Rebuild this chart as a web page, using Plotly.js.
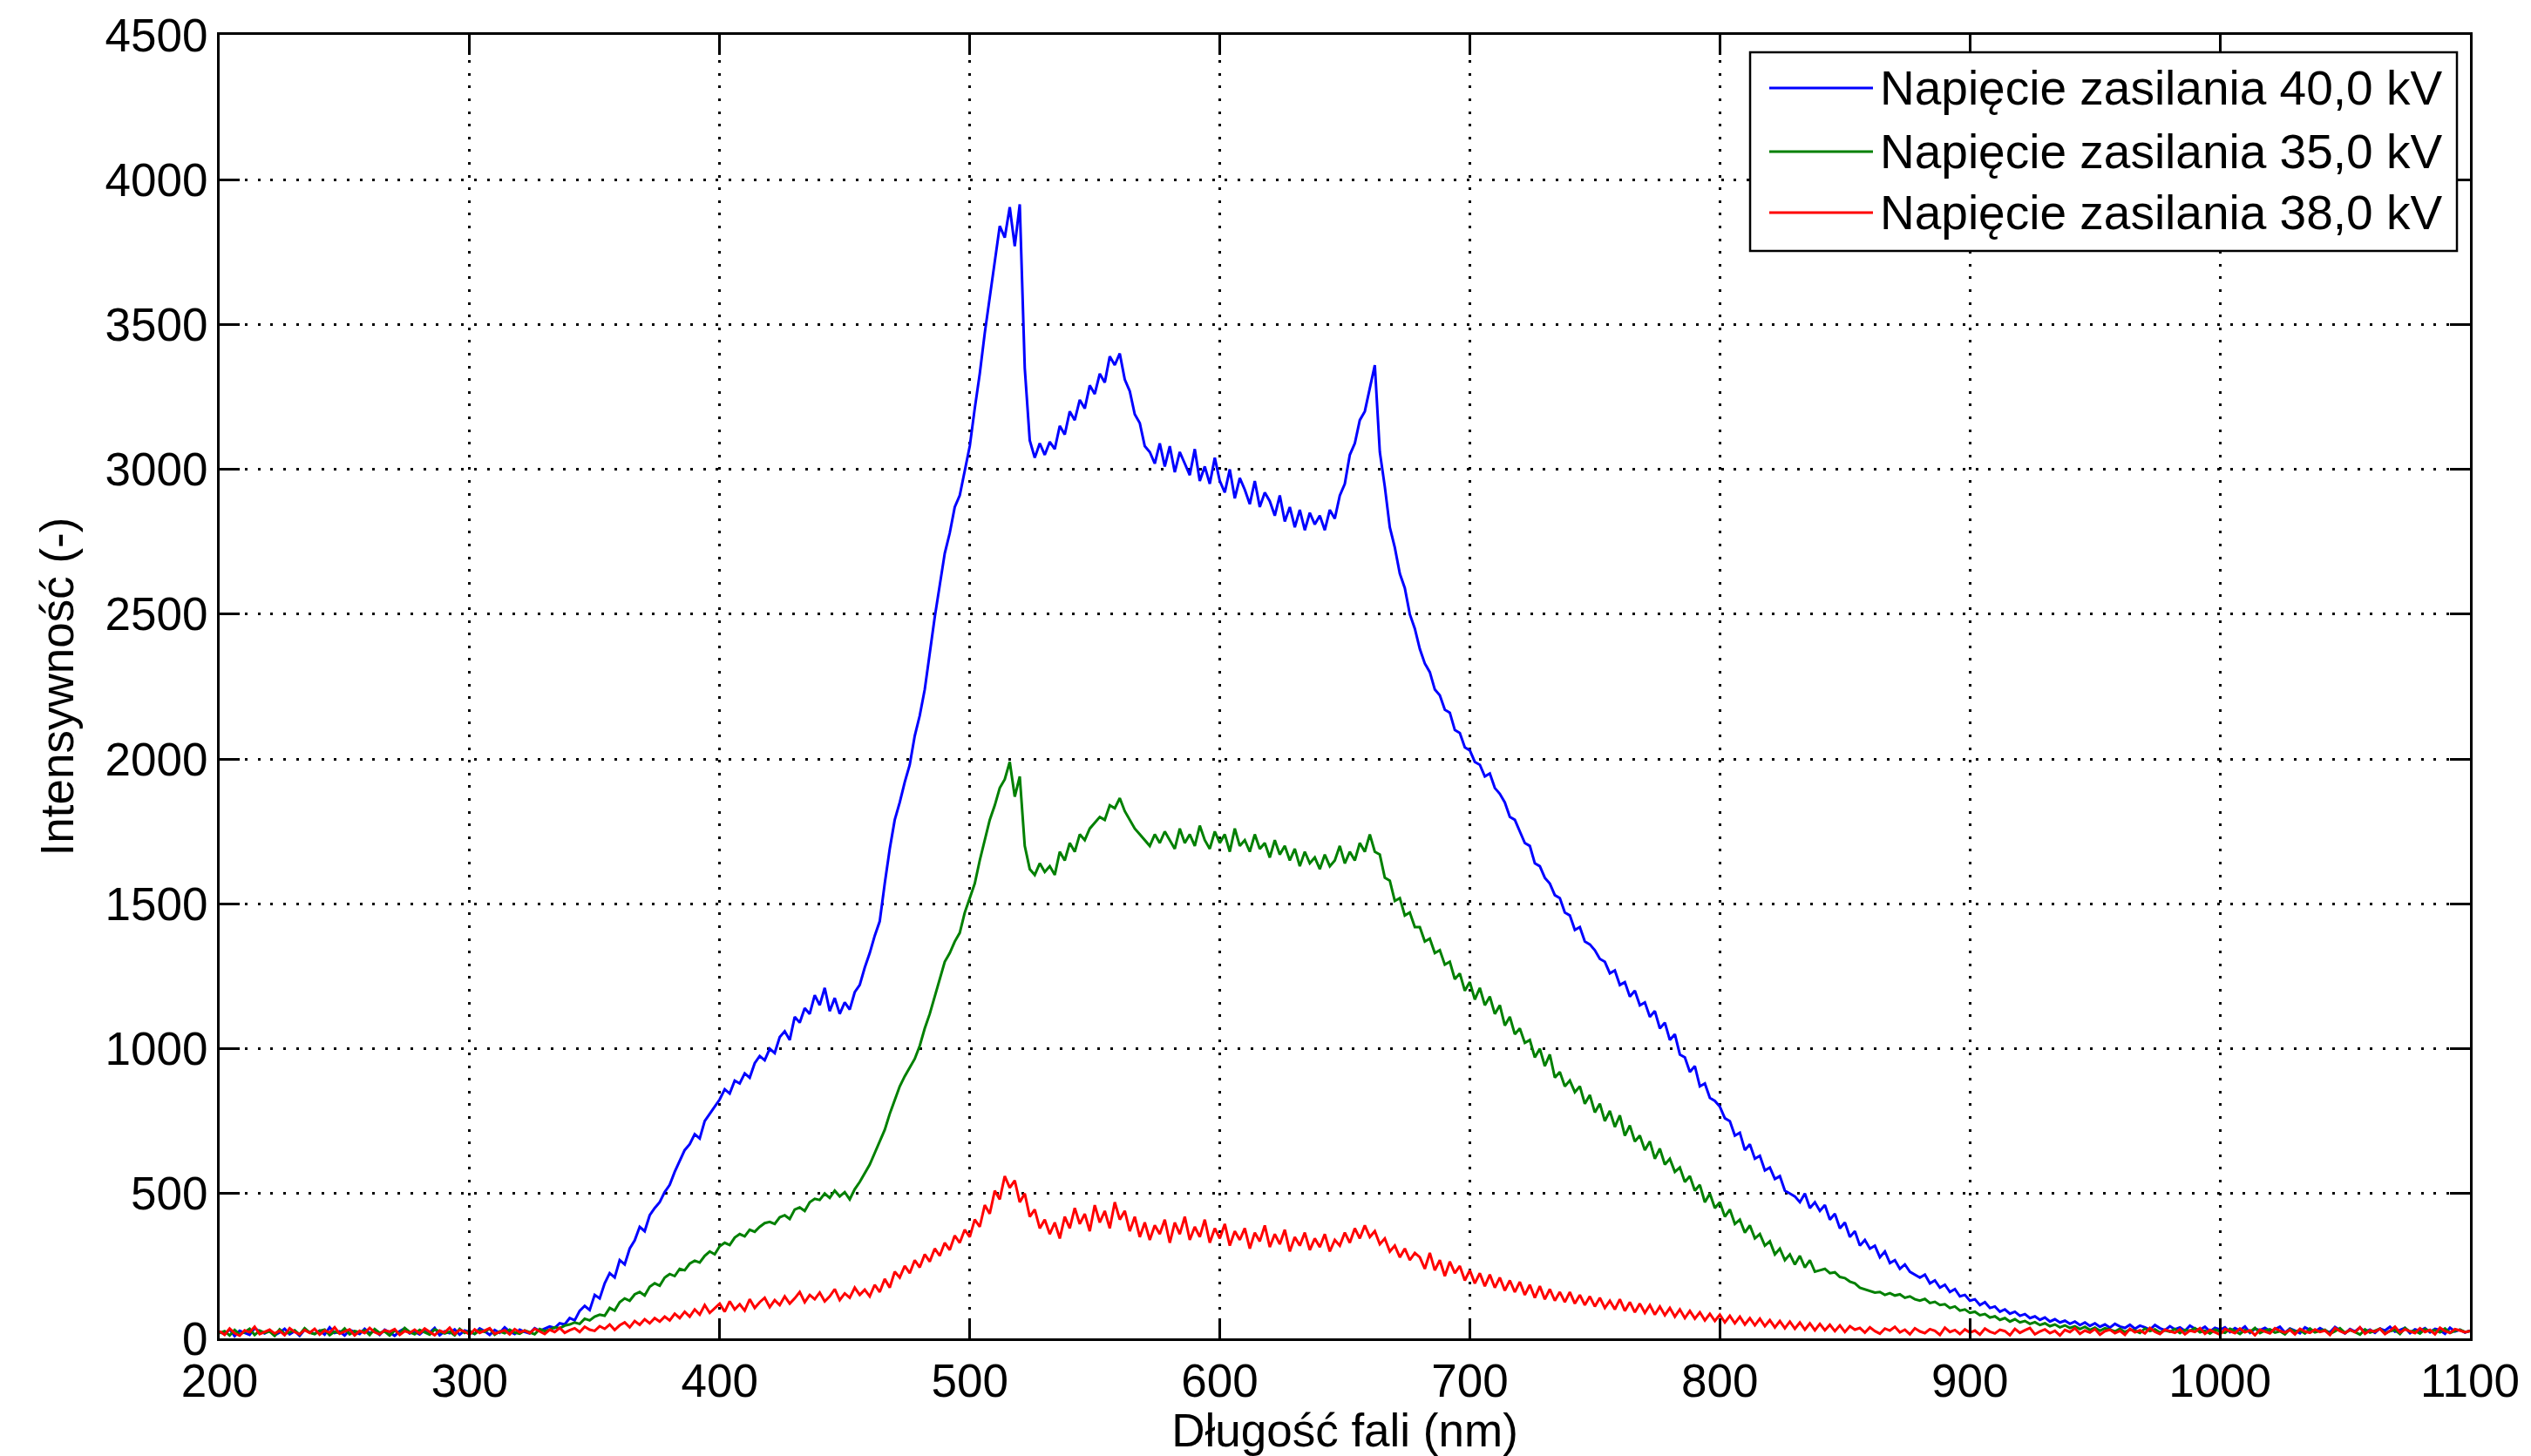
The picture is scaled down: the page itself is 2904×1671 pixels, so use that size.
<!DOCTYPE html>
<html>
<head>
<meta charset="utf-8">
<script src="https://cdn.plot.ly/plotly-3.0.1.min.js"></script>
<style>
html,body{margin:0;padding:0;background:#fff;}
#chart{width:2904px;height:1671px;}
</style>
</head>
<body>
<div id="chart"></div>
<script>
// Wavelength sampling grid (nm)
const WL_START = 200;
const WL_STEP = 2;

const seriesNames = ["Napięcie zasilania 40,0 kV", "Napięcie zasilania 35,0 kV", "Napięcie zasilania 38,0 kV"];
const seriesColors = ["#0000FF", "#008000", "#FF0000"];

const xTickVals = [200, 300, 400, 500, 600, 700, 800, 900, 1000, 1100];
const yTickVals = [0, 500, 1000, 1500, 2000, 2500, 3000, 3500, 4000, 4500];

const xTitle = "Długość fali (nm)";
const yTitle = "Intensywność (-)";

// 40,0 kV (blue) — values read every 2 nm from 200 to 1100
const intensity40 = [
/*200*/ 22,15,31,8,26,19,12,35,24,17,
/*220*/ 28,11,20,33,14,25,9,30,21,16,
/*240*/ 27,13,38,19,24,10,29,22,15,33,
/*260*/ 18,26,12,30,21,9,25,34,17,23,
/*280*/ 14,28,20,36,11,24,18,31,13,27,
/*300*/ 21,16,34,25,12,29,19,38,23,15,
/*320*/ 30,22,17,35,26,33,41,36,52,48,
/*340*/ 70,62,95,112,98,150,138,190,225,210,
/*360*/ 270,255,310,338,385,370,425,450,470,505,
/*380*/ 530,575,610,650,670,705,690,750,775,800,
/*400*/ 825,860,845,890,880,915,900,950,975,960,
/*420*/ 1000,985,1040,1060,1030,1110,1090,1140,1120,1185,
/*440*/ 1150,1210,1130,1175,1120,1160,1135,1195,1220,1280,
/*460*/ 1330,1390,1440,1570,1690,1790,1850,1920,1980,2080,
/*480*/ 2150,2240,2370,2490,2600,2710,2780,2870,2910,3000,
/*500*/ 3080,3210,3330,3470,3590,3720,3840,3800,3905,3770,
/*520*/ 3915,3350,3100,3040,3090,3050,3095,3070,3150,3120,
/*540*/ 3200,3170,3240,3210,3290,3260,3330,3300,3390,3360,
/*560*/ 3400,3310,3270,3190,3160,3080,3060,3020,3090,3010,
/*580*/ 3080,2990,3060,3020,2980,3070,2960,3010,2950,3040,
/*600*/ 2960,2920,3000,2900,2970,2930,2880,2960,2870,2920,
/*620*/ 2890,2840,2910,2820,2870,2800,2860,2790,2850,2810,
/*640*/ 2840,2790,2860,2830,2910,2950,3050,3090,3170,3200,
/*660*/ 3280,3360,3060,2940,2800,2730,2640,2590,2500,2450,
/*680*/ 2380,2330,2300,2240,2220,2170,2160,2100,2090,2040,
/*700*/ 2030,1990,1980,1940,1950,1900,1880,1850,1800,1790,
/*720*/ 1750,1710,1700,1640,1630,1590,1570,1530,1520,1470,
/*740*/ 1460,1410,1420,1370,1360,1340,1310,1300,1260,1270,
/*760*/ 1220,1230,1180,1200,1150,1160,1110,1130,1070,1090,
/*780*/ 1030,1050,980,970,920,940,870,880,830,820,
/*800*/ 800,760,750,700,710,650,670,620,630,580,
/*820*/ 590,550,560,510,500,490,470,500,450,470,
/*840*/ 440,460,410,430,380,400,350,370,320,340,
/*860*/ 310,320,280,300,260,270,240,255,230,220,
/*880*/ 210,220,190,200,175,185,160,170,145,150,
/*900*/ 130,135,115,125,105,110,92,100,85,92,
/*920*/ 78,84,70,76,64,72,58,66,55,61,
/*940*/ 50,58,46,55,43,52,40,48,37,50,
/*960*/ 41,36,47,33,44,38,30,46,35,28,
/*980*/ 42,31,38,26,44,33,29,40,24,36,
/*1000*/ 30,38,22,35,27,41,19,33,28,36,
/*1020*/ 25,31,40,20,34,27,18,38,29,23,
/*1040*/ 35,26,21,39,28,17,32,24,37,22,
/*1060*/ 30,19,34,27,40,23,29,36,18,31,
/*1080*/ 26,35,21,33,28,16,37,24,30,20,
/*1100*/ 27
];

// 35,0 kV (green)
const intensity35 = [
/*200*/ 18,25,10,29,14,22,33,12,27,19,
/*220*/ 24,9,31,16,21,28,13,35,20,15,
/*240*/ 26,30,11,23,18,34,14,25,21,28,
/*260*/ 12,32,19,24,10,27,16,36,22,14,
/*280*/ 29,20,13,31,25,17,23,11,33,19,
/*300*/ 26,15,28,22,34,13,24,18,30,20,
/*320*/ 16,27,21,14,32,25,30,38,35,44,
/*340*/ 48,55,50,68,62,75,82,78,105,96,
/*360*/ 125,138,130,152,160,148,178,190,182,210,
/*380*/ 222,215,240,235,258,268,262,285,300,290,
/*400*/ 318,330,322,348,360,352,375,368,385,398,
/*420*/ 402,395,418,425,412,445,452,440,470,482,
/*440*/ 478,500,485,510,490,505,480,515,540,570,
/*460*/ 600,640,680,720,775,820,870,905,935,965,
/*480*/ 1010,1070,1120,1180,1240,1300,1330,1370,1400,1470,
/*500*/ 1520,1570,1650,1720,1790,1840,1900,1930,1990,1870,
/*520*/ 1940,1700,1620,1600,1640,1610,1630,1600,1680,1650,
/*540*/ 1710,1680,1740,1720,1760,1780,1800,1790,1840,1830,
/*560*/ 1865,1820,1790,1760,1740,1720,1700,1740,1710,1750,
/*580*/ 1720,1690,1760,1710,1740,1700,1770,1720,1690,1750,
/*600*/ 1710,1740,1680,1760,1700,1720,1680,1740,1690,1710,
/*620*/ 1660,1720,1670,1700,1650,1690,1630,1680,1640,1660,
/*640*/ 1620,1670,1630,1650,1700,1640,1680,1650,1710,1680,
/*660*/ 1740,1680,1670,1590,1580,1510,1520,1460,1470,1420,
/*680*/ 1420,1370,1380,1330,1340,1290,1300,1240,1260,1200,
/*700*/ 1230,1170,1210,1150,1180,1120,1150,1080,1110,1050,
/*720*/ 1070,1020,1030,970,1000,940,980,900,920,870,
/*740*/ 890,850,870,810,840,780,810,750,785,730,
/*760*/ 770,700,735,680,700,650,680,620,655,600,
/*780*/ 620,575,590,540,560,510,530,470,500,450,
/*800*/ 470,420,445,395,410,365,390,345,360,320,
/*820*/ 335,290,310,270,290,255,285,245,270,230,
/*840*/ 235,240,225,228,212,208,196,190,175,170,
/*860*/ 165,158,160,150,156,148,152,140,145,135,
/*880*/ 130,136,122,126,115,118,105,110,96,100,
/*900*/ 88,92,80,84,72,76,64,70,58,66,
/*920*/ 55,60,50,56,46,52,42,48,38,45,
/*940*/ 36,42,32,40,29,37,26,35,30,24,
/*960*/ 33,22,30,27,19,34,25,31,20,28,
/*980*/ 23,32,18,29,26,35,21,27,17,30,
/*1000*/ 24,19,33,26,15,29,22,36,18,27,
/*1020*/ 31,20,25,14,32,23,28,17,34,21,
/*1040*/ 26,30,16,24,35,19,28,22,13,31,
/*1060*/ 20,27,33,18,25,29,15,36,23,26,
/*1080*/ 17,32,24,28,21,34,19,26,30,22,
/*1100*/ 25
];

// 38,0 kV (red)
const intensity38 = [
/*200*/ 25,12,34,18,9,28,21,40,15,23,
/*220*/ 30,17,26,11,35,22,14,29,19,33,
/*240*/ 13,27,20,38,16,24,31,10,26,18,
/*260*/ 36,21,14,28,23,32,12,25,19,30,
/*280*/ 17,34,22,11,27,20,37,15,29,24,
/*300*/ 13,31,19,26,35,16,23,28,14,32,
/*320*/ 21,27,18,33,24,15,30,22,36,19,
/*340*/ 28,35,22,40,30,26,42,33,48,29,
/*360*/ 45,55,38,60,47,66,52,70,58,75,
/*380*/ 62,85,70,92,75,100,82,115,88,105,
/*400*/ 120,92,128,100,118,96,135,105,125,140,
/*420*/ 108,132,115,145,120,138,160,125,150,135,
/*440*/ 158,128,145,170,132,155,140,175,150,168,
/*460*/ 145,185,160,205,175,230,210,250,225,270,
/*480*/ 245,290,265,310,285,330,305,355,330,375,
/*500*/ 350,410,385,460,430,510,480,560,520,545,
/*520*/ 470,500,420,445,380,410,360,400,345,420,
/*540*/ 380,450,395,430,370,460,400,440,380,470,
/*560*/ 410,440,370,420,350,400,340,390,360,410,
/*580*/ 330,400,360,420,340,385,350,410,330,380,
/*600*/ 345,395,320,370,340,380,310,365,335,390,
/*620*/ 315,360,325,375,300,350,320,365,305,345,
/*640*/ 315,360,300,340,320,365,330,380,345,390,
/*660*/ 350,370,325,345,300,320,280,310,270,295,
/*680*/ 280,240,295,235,270,215,265,225,250,200,
/*700*/ 235,190,225,180,220,175,210,165,200,160,
/*720*/ 195,150,185,140,180,135,170,130,160,125,
/*740*/ 160,120,150,115,145,110,140,105,130,100,
/*760*/ 135,95,125,90,120,88,115,82,110,80,
/*780*/ 105,75,100,70,95,68,90,62,85,60,
/*800*/ 82,55,78,52,75,48,70,45,68,42,
/*820*/ 63,38,60,35,58,33,55,30,52,28,
/*840*/ 50,28,47,25,45,22,42,30,36,20,
/*860*/ 38,25,16,34,27,40,21,30,14,35,
/*880*/ 24,18,32,26,12,37,22,29,15,31,
/*900*/ 20,27,13,34,23,17,30,25,11,33,
/*920*/ 19,28,36,14,24,31,18,26,10,29,
/*940*/ 22,35,16,27,20,32,13,25,30,18,
/*960*/ 26,12,33,21,28,17,36,23,15,30,
/*980*/ 24,19,31,14,27,22,35,16,29,20,
/*1000*/ 13,32,25,18,34,21,28,11,30,23,
/*1020*/ 17,35,26,20,29,14,33,24,19,31,
/*1040*/ 22,27,12,36,25,18,30,21,38,16,
/*1060*/ 28,23,33,15,26,40,20,31,24,18,
/*1080*/ 35,22,29,14,37,25,19,32,27,21,
/*1100*/ 26
];

const seriesValues = [intensity40, intensity35, intensity38];

function wavelengths(n) {
  const out = [];
  for (let i = 0; i < n; i++) out.push(WL_START + i * WL_STEP);
  return out;
}

const traces = seriesValues.map((vals, i) => ({
  type: 'scatter',
  mode: 'lines',
  x: wavelengths(vals.length),
  y: vals,
  name: seriesNames[i],
  line: {color: seriesColors[i], width: 3},
  hoverinfo: 'skip'
}));

const FONT = 'Liberation Sans, Arial, Helvetica, sans-serif';

// Manual legend box (paper coordinates)
const legendBox = {x0: 0.6801, x1: 0.9942, y0: 0.8342, y1: 0.9866};
const legendRowsY = [0.9592, 0.9104, 0.8636];
const legendLineX = [0.6886, 0.7347];
const legendTextX = 0.7370;

const shapes = [{
  type: 'rect', xref: 'paper', yref: 'paper',
  x0: legendBox.x0, x1: legendBox.x1, y0: legendBox.y0, y1: legendBox.y1,
  line: {color: '#000', width: 2.5}, fillcolor: '#fff', layer: 'above'
}];
const annotations = [];
seriesNames.forEach((nm, i) => {
  shapes.push({
    type: 'line', xref: 'paper', yref: 'paper',
    x0: legendLineX[0], x1: legendLineX[1], y0: legendRowsY[i], y1: legendRowsY[i],
    line: {color: seriesColors[i], width: 3}, layer: 'above'
  });
  annotations.push({
    xref: 'paper', yref: 'paper', x: legendTextX, y: legendRowsY[i],
    xanchor: 'left', yanchor: 'middle', showarrow: false,
    text: nm, font: {family: FONT, size: 55, color: '#000'}
  });
});

const axisCommon = {
  ticks: 'inside', ticklen: 23, tickwidth: 3, tickcolor: '#000',
  showline: true, linewidth: 3, linecolor: '#000', mirror: 'ticks',
  showgrid: true, gridcolor: '#000', gridwidth: 3, griddash: '3px,11.6px',
  zeroline: false, automargin: false,
  tickfont: {family: FONT, size: 53, color: '#000'}
};

const layout = {
  width: 2904, height: 1671,
  margin: {l: 252, r: 70, t: 40, b: 135, pad: 0},
  paper_bgcolor: '#fff', plot_bgcolor: '#fff',
  font: {family: FONT, size: 53, color: '#000'},
  showlegend: false,
  xaxis: Object.assign({}, axisCommon, {
    range: [200, 1100], tickmode: 'array', tickvals: xTickVals,
    ticktext: xTickVals.map(String),
    title: {text: xTitle, font: {family: FONT, size: 53, color: '#000'}, standoff: 6}
  }),
  yaxis: Object.assign({}, axisCommon, {
    range: [0, 4500], tickmode: 'array', tickvals: yTickVals,
    ticktext: yTickVals.map(String),
    title: {text: yTitle, font: {family: FONT, size: 53, color: '#000'}, standoff: 19}
  }),
  shapes: shapes,
  annotations: annotations
};

Plotly.newPlot('chart', traces, layout, {staticPlot: true, displayModeBar: false});
</script>
</body>
</html>
